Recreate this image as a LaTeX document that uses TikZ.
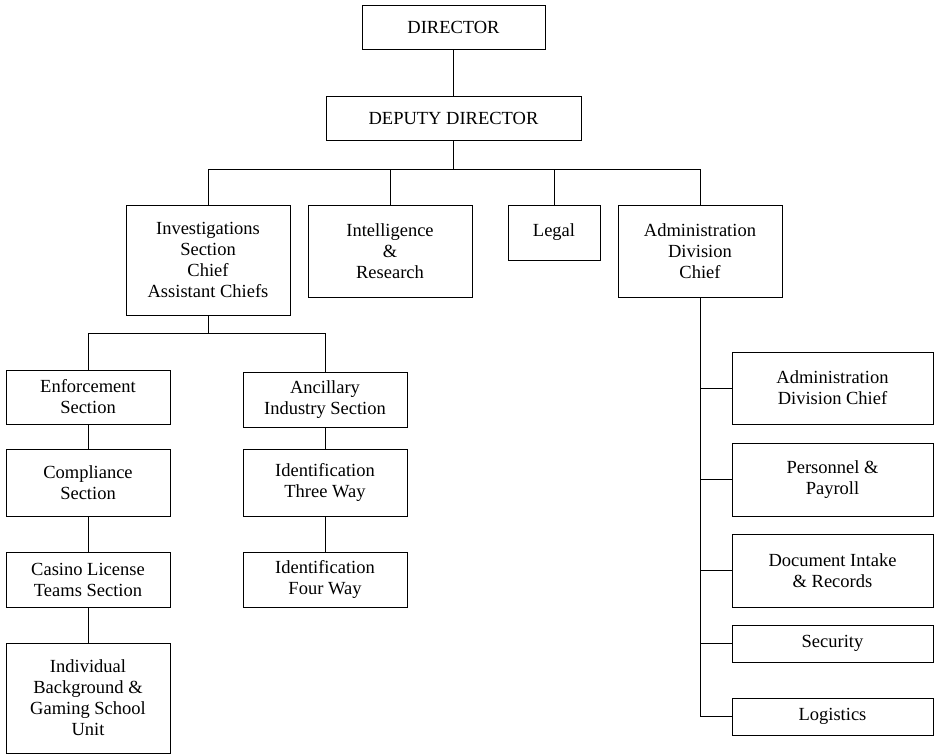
\documentclass[tikz,border=0pt]{standalone}
\usepackage{fontspec}
\setmainfont{Liberation Serif}
\begin{document}
\begin{tikzpicture}[x=1pt,y=-1pt,
  box/.style={draw, line width=0.8pt, align=center, inner sep=0pt,
    font=\fontsize{18.5}{21}\selectfont},
  link/.style={line width=0.8pt}]
\useasboundingbox (0,0) rectangle (935,754);

% top of the hierarchy
\node[box, minimum width=183, minimum height=44] (director) at (453.5,27) {DIRECTOR};
\node[box, minimum width=255, minimum height=44] (deputy) at (453.5,118) {DEPUTY DIRECTOR};

% sections under the deputy director
\node[box, minimum width=164, minimum height=110] (inv) at (208,260)
  {Investigations\\Section\\Chief\\Assistant Chiefs};
\node[box, minimum width=164, minimum height=92] (intel) at (390,251)
  {Intelligence\\\&\\Research};
\node[box, minimum width=92, minimum height=55] (legal) at (554,232.5) {Legal};
\node[box, minimum width=164, minimum height=92] (admin) at (700,251)
  {Administration\\Division\\Chief};

% investigations branch, left column
\node[box, minimum width=164, minimum height=54] (enf) at (88,397) {Enforcement\\Section};
\node[box, minimum width=164, minimum height=67] (comp) at (88,482.5) {Compliance\\Section};
\node[box, minimum width=164, minimum height=55] (casino) at (88,579.5) {Casino License\\Teams Section};
\node[box, minimum width=164, minimum height=110] (indiv) at (88,698)
  {Individual\\Background \&\\Gaming School\\Unit};

% investigations branch, right column
\node[box, minimum width=164, minimum height=55] (anc) at (325,399.5) {Ancillary\\Industry Section};
\node[box, minimum width=164, minimum height=67] (id3) at (325,482.5) {Identification\\Three Way};
\node[box, minimum width=164, minimum height=55] (id4) at (325,579.5) {Identification\\Four Way};

% administration units
\node[box, minimum width=201, minimum height=72] (adc) at (832.5,388) {Administration\\Division Chief};
\node[box, minimum width=201, minimum height=73] (pers) at (832.5,479.5) {Personnel \&\\Payroll};
\node[box, minimum width=201, minimum height=73] (doc) at (832.5,570.5) {Document Intake\\\& Records};
\node[box, minimum width=201, minimum height=37] (sec) at (832.5,643.5) {Security};
\node[box, minimum width=201, minimum height=37] (log) at (832.5,716.5) {Logistics};

% connectors
\draw[link] (director.south) -- (deputy.south |- deputy.north);
\foreach \t in {inv,intel,legal,admin}
  \draw[link] (deputy.south) -- ++(0,29) -| (\t.north);
\foreach \t in {enf,anc}
  \draw[link] (inv.south) -- ++(0,18) -| (\t.north);
\draw[link] (enf) -- (comp);
\draw[link] (comp) -- (casino);
\draw[link] (casino) -- (indiv);
\draw[link] (anc) -- (id3);
\draw[link] (id3) -- (id4);
\draw[link] (admin.south) |- (log.west);
\foreach \t in {adc,pers,doc,sec}
  \draw[link] (admin.south |- \t.west) -- (\t.west);
\end{tikzpicture}
\end{document}
